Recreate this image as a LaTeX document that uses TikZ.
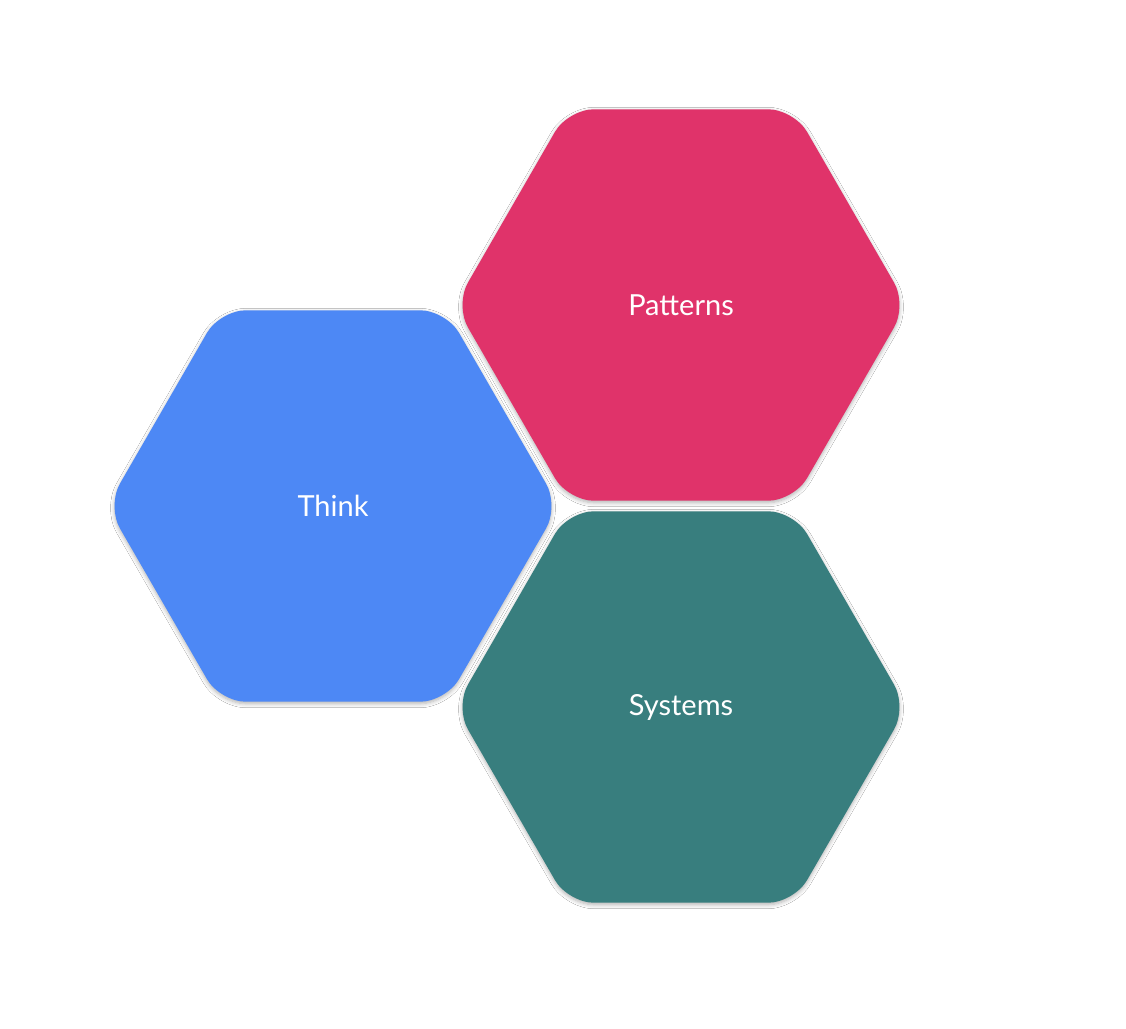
\documentclass[tikz,border=0pt]{standalone}
\usepackage{fontspec}
\setmainfont{Lato}
\usetikzlibrary{shapes.geometric,shadows.blur}
\definecolor{hblue}{HTML}{4D88F5}
\definecolor{hpink}{HTML}{E0336A}
\definecolor{hteal}{HTML}{387E7E}
\begin{document}
\begin{tikzpicture}[x=1pt,y=-1pt,
  hexa/.style={regular polygon, regular polygon sides=6, minimum size=452pt, inner sep=0pt,
    rounded corners=26pt, text=white, font=\fontsize{29}{34}\selectfont,
    blur shadow={shadow blur steps=6, shadow xshift=0pt, shadow yshift=-2pt, shadow opacity=30, shadow blur radius=4pt}}]
\useasboundingbox[fill=white] (0,0) rectangle (1126,1028);
\node[hexa, fill=hblue] (think) at (333,506) {Think};
\node[hexa, fill=hpink] (patterns) at (681,305) {Patterns};
\node[hexa, fill=hteal] (systems) at (681,707) {Systems};
\end{tikzpicture}
\end{document}
